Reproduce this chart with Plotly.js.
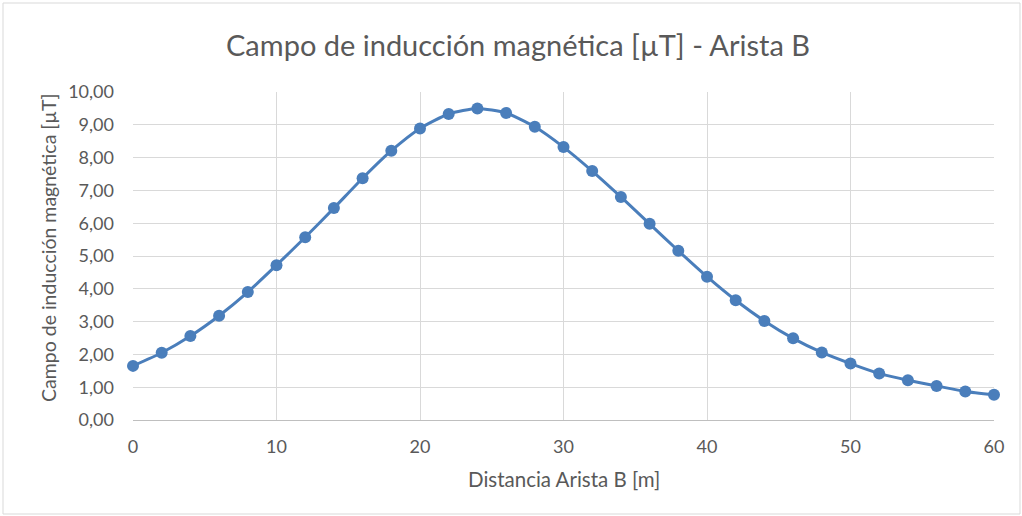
<!DOCTYPE html>
<html><head><meta charset="utf-8">
<script src="https://cdn.plot.ly/plotly-3.0.1.min.js"></script>
<style>html,body{margin:0;padding:0;background:#fff}#chart{width:1022px;height:516px}</style>
</head><body><div id="chart"></div>
<script>
const distancia = [0,2,4,6,8,10,12,14,16,18,20,22,24,26,28,30,32,34,36,38,40,42,44,46,48,50,52,54,56,58,60];
const campo = [1.65,2.05,2.56,3.18,3.90,4.72,5.57,6.46,7.37,8.21,8.89,9.33,9.50,9.36,8.94,8.32,7.59,6.80,5.98,5.16,4.37,3.65,3.02,2.49,2.06,1.72,1.42,1.21,1.04,0.87,0.77];
const xTicks = [0,10,20,30,40,50,60];
const yTicks = [0,1,2,3,4,5,6,7,8,9,10];
const titulo = 'Campo de inducción magnética [µT] - Arista B';
const tituloX = 'Distancia Arista B [m]';
const tituloY = 'Campo de inducción magnética [µT]';

const W = 1022, H = 516, L = 133, R = 28, T = 92, B = 96;
const pw = W - L - R, ph = H - T - B;
const fontFam = 'Lato, "Open Sans", sans-serif';

Plotly.newPlot('chart', [{
  x: distancia, y: campo, type: 'scatter', mode: 'lines+markers',
  line: {color: '#4a7ebb', width: 3, shape: 'spline', smoothing: 0.6},
  marker: {color: '#4a7ebb', size: 12},
  cliponaxis: false, hoverinfo: 'skip'
}], {
  width: W, height: H,
  margin: {l: L, r: R, t: T, b: B},
  paper_bgcolor: '#fff', plot_bgcolor: '#fff',
  separators: ',.',
  showlegend: false,
  font: {family: fontFam, color: '#595959', size: 18},
  title: {text: titulo, font: {family: fontFam, size: 29, color: '#595959'}, xref: 'container', x: 518 / W, xanchor: 'center', yref: 'container', y: 1 - 46 / H, yanchor: 'middle'},
  xaxis: {
    range: [0, 60], tickvals: xTicks, ticktext: xTicks.map(String),
    showgrid: true, gridcolor: '#d9d9d9', gridwidth: 1,
    zeroline: false, showline: true, linecolor: '#bfbfbf', linewidth: 1,
    ticks: '', ticklen: 0, ticklabelstandoff: 10, tickfont: {size: 18, color: '#595959'}
  },
  yaxis: {
    range: [0, 10], tickvals: yTicks, tickformat: '.2f',
    showgrid: true, gridcolor: '#d9d9d9', gridwidth: 1,
    zeroline: false, showline: false, ticks: '', ticklabelstandoff: 18,
    tickfont: {size: 18, color: '#595959'}
  },
  annotations: [
    {text: tituloX, xref: 'paper', yref: 'paper', x: (563.5 - L) / pw, y: (H - B - 479) / ph,
     xanchor: 'center', yanchor: 'middle', showarrow: false, font: {size: 20.5, color: '#595959'}},
    {text: tituloY, xref: 'paper', yref: 'paper', x: (48 - L) / pw, y: (H - B - 248) / ph,
     xanchor: 'center', yanchor: 'middle', textangle: -90, showarrow: false, font: {size: 19.5, color: '#595959'}}
  ],
  shapes: [{
    type: 'rect', xref: 'paper', yref: 'paper', layer: 'below',
    x0: (3 - L) / pw, x1: (W - 2 - L) / pw, y0: (H - 514 - B) / ph, y1: (H - 3 - B) / ph,
    line: {color: '#d9d9d9', width: 1}, fillcolor: 'rgba(0,0,0,0)'
  }]
}, {staticPlot: true});
</script></body></html>
